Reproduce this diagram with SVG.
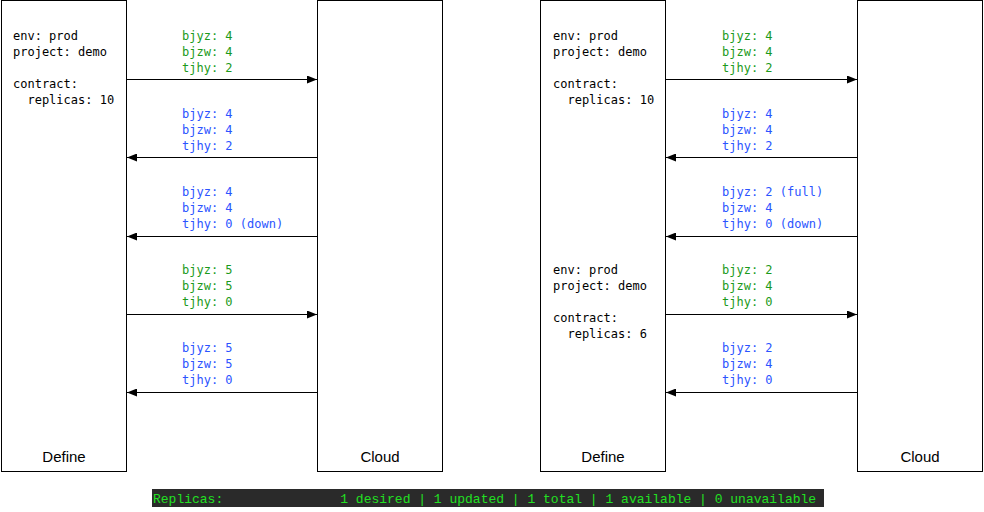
<svg xmlns="http://www.w3.org/2000/svg" width="984" height="512" viewBox="0 0 984 512">
<defs>
<marker id="ah" markerWidth="10" markerHeight="8" refX="10" refY="4" orient="auto" markerUnits="userSpaceOnUse">
<path d="M0,0 L10,4 L0,8 Z" fill="#000"/>
</marker>
<style>
.box{fill:#fff;stroke:#000;stroke-width:1}
.lbl{font-family:"Liberation Sans",Arial,sans-serif;font-size:15px;fill:#000;text-anchor:middle}
.m{font-family:"DejaVu Sans Mono","Liberation Mono",monospace;font-size:12px;white-space:pre}
.k{fill:#000}
.g{fill:#1b9a1b}
.b{fill:#2b54ff}
.ln{stroke:#000;stroke-width:1;fill:none;marker-end:url(#ah)}
.bar{font-family:"Liberation Mono",monospace;font-size:13px;fill:#22e022;white-space:pre}
</style>
</defs>
<rect width="984" height="512" fill="#fff"/>
<g id="define-left">
<rect class="box" x="1.5" y="0.5" width="125" height="471"/>
<text class="lbl" x="64" y="462">Define</text>
<text class="m k" x="13" y="40">env: prod</text>
<text class="m k" x="13" y="56">project: demo</text>
<text class="m k" x="13" y="88">contract:</text>
<text class="m k" x="13" y="104" xml:space="preserve">  replicas: 10</text>
</g>
<g id="cloud-left">
<rect class="box" x="317.5" y="0.5" width="125" height="471"/>
<text class="lbl" x="380" y="462">Cloud</text>
</g>
<g id="define-right">
<rect class="box" x="540.5" y="0.5" width="125" height="471"/>
<text class="lbl" x="603" y="462">Define</text>
<text class="m k" x="553" y="40">env: prod</text>
<text class="m k" x="553" y="56">project: demo</text>
<text class="m k" x="553" y="88">contract:</text>
<text class="m k" x="553" y="104" xml:space="preserve">  replicas: 10</text>
<text class="m k" x="553" y="274">env: prod</text>
<text class="m k" x="553" y="290">project: demo</text>
<text class="m k" x="553" y="322">contract:</text>
<text class="m k" x="553" y="338" xml:space="preserve">  replicas: 6</text>
</g>
<g id="cloud-right">
<rect class="box" x="857.5" y="0.5" width="125" height="471"/>
<text class="lbl" x="920" y="462">Cloud</text>
</g>
<g id="connectors">
<line class="ln" x1="127" y1="79.5" x2="317" y2="79.5"/>
<line class="ln" x1="317" y1="157.5" x2="127" y2="157.5"/>
<line class="ln" x1="317" y1="236.5" x2="127" y2="236.5"/>
<line class="ln" x1="127" y1="314.5" x2="317" y2="314.5"/>
<line class="ln" x1="317" y1="392.5" x2="127" y2="392.5"/>
<line class="ln" x1="666" y1="79.5" x2="857" y2="79.5"/>
<line class="ln" x1="857" y1="157.5" x2="666" y2="157.5"/>
<line class="ln" x1="857" y1="236.5" x2="666" y2="236.5"/>
<line class="ln" x1="666" y1="314.5" x2="857" y2="314.5"/>
<line class="ln" x1="857" y1="392.5" x2="666" y2="392.5"/>
</g>
<g id="labels-left">
<text class="m g" x="182" y="40">bjyz: 4</text>
<text class="m g" x="182" y="56">bjzw: 4</text>
<text class="m g" x="182" y="72">tjhy: 2</text>
<text class="m b" x="182" y="118">bjyz: 4</text>
<text class="m b" x="182" y="134">bjzw: 4</text>
<text class="m b" x="182" y="150">tjhy: 2</text>
<text class="m b" x="182" y="196">bjyz: 4</text>
<text class="m b" x="182" y="212">bjzw: 4</text>
<text class="m b" x="182" y="228">tjhy: 0 (down)</text>
<text class="m g" x="182" y="274">bjyz: 5</text>
<text class="m g" x="182" y="290">bjzw: 5</text>
<text class="m g" x="182" y="306">tjhy: 0</text>
<text class="m b" x="182" y="352">bjyz: 5</text>
<text class="m b" x="182" y="368">bjzw: 5</text>
<text class="m b" x="182" y="384">tjhy: 0</text>
</g>
<g id="labels-right">
<text class="m g" x="722" y="40">bjyz: 4</text>
<text class="m g" x="722" y="56">bjzw: 4</text>
<text class="m g" x="722" y="72">tjhy: 2</text>
<text class="m b" x="722" y="118">bjyz: 4</text>
<text class="m b" x="722" y="134">bjzw: 4</text>
<text class="m b" x="722" y="150">tjhy: 2</text>
<text class="m b" x="722" y="196">bjyz: 2 (full)</text>
<text class="m b" x="722" y="212">bjzw: 4</text>
<text class="m b" x="722" y="228">tjhy: 0 (down)</text>
<text class="m g" x="722" y="274">bjyz: 2</text>
<text class="m g" x="722" y="290">bjzw: 4</text>
<text class="m g" x="722" y="306">tjhy: 0</text>
<text class="m b" x="722" y="352">bjyz: 2</text>
<text class="m b" x="722" y="368">bjzw: 4</text>
<text class="m b" x="722" y="384">tjhy: 0</text>
</g>
<g id="status-bar">
<rect x="152" y="489" width="672" height="18" fill="#2a2a2a"/>
<text class="bar" x="153" y="503" xml:space="preserve">Replicas:               1 desired | 1 updated | 1 total | 1 available | 0 unavailable</text>
</g>
</svg>
